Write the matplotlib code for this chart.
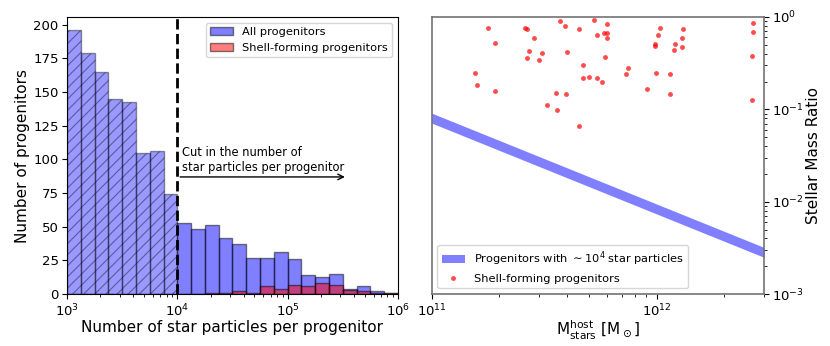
import numpy as np
import matplotlib
matplotlib.use("Agg")
import matplotlib.pyplot as plt

# Histogram: 24 log bins from 1e3 to 1e6 (8 per decade)
bin_edges = np.logspace(3, 6, 25)
all_counts = [196, 179, 165, 145, 143, 105, 106, 74,
              53, 48, 51, 42, 37, 27, 27, 31,
              26, 14, 13, 15, 4, 6, 2, 1]
shell_counts = [0, 0, 0, 0, 0, 0, 0, 0,
                0, 0, 1, 1, 2, 1, 6, 4,
                7, 6, 8, 7, 3, 2, 1, 1]
n_cut = 1e4

# Right panel: band of progenitors with ~1e4 star particles
band_mass = [1e11, 3e12]
band_upper = [0.091, 0.0032]
band_lower = [0.071, 0.0025]

# Shell-forming progenitors: host stellar mass and stellar mass ratio
host_mass = [1.78e11, 1.91e11, 1.55e11, 1.59e11, 1.91e11, 2.61e11, 2.66e11, 2.86e11,
             2.70e11, 2.65e11, 3.09e11, 3.00e11, 3.72e11, 3.93e11, 4.52e11, 4.00e11,
             3.56e11, 3.95e11, 3.27e11, 3.61e11, 4.52e11, 4.68e11, 4.68e11, 4.99e11,
             5.42e11, 5.70e11, 5.26e11, 6.03e11, 5.42e11, 5.86e11, 6.03e11, 6.03e11,
             5.89e11, 7.45e11, 7.28e11, 9.08e11, 9.84e11, 9.82e11, 1.03e12, 1.01e12,
             9.93e11, 1.15e12, 1.15e12, 1.20e12, 1.19e12, 1.31e12, 1.30e12, 1.30e12,
             2.68e12, 2.68e12, 2.65e12, 2.65e12]
mass_ratio = [0.754, 0.519, 0.246, 0.184, 0.156, 0.767, 0.741, 0.593,
              0.426, 0.361, 0.411, 0.346, 0.906, 0.793, 0.741, 0.415,
              0.151, 0.148, 0.112, 0.098, 0.0658, 0.303, 0.219, 0.223,
              0.217, 0.200, 0.936, 0.839, 0.638, 0.671, 0.671, 0.593,
              0.372, 0.281, 0.240, 0.164, 0.507, 0.490, 0.767, 0.638,
              0.250, 0.242, 0.146, 0.511, 0.440, 0.741, 0.593, 0.470,
              0.861, 0.682, 0.378, 0.126]

plt.rcParams["hatch.linewidth"] = 0.8

fig = plt.figure(figsize=(8.3, 3.46), dpi=100)
ax1 = fig.add_axes([0.0807, 0.150, 0.3988, 0.801])
ax2 = fig.add_axes([0.5201, 0.150, 0.4005, 0.801])

# ---- left panel
left = bin_edges[:-1]
widths = np.diff(bin_edges)
below = left < n_cut
ax1.bar(left[below], np.array(all_counts)[below], width=widths[below], align="edge",
        color="blue", alpha=0.4, edgecolor="black", hatch="///", linewidth=1)
ax1.bar(left[~below], np.array(all_counts)[~below], width=widths[~below], align="edge",
        color="blue", alpha=0.5, edgecolor="black", linewidth=1, label="All progenitors")
ax1.bar(left, shell_counts, width=widths, align="edge",
        color="red", alpha=0.5, edgecolor="black", linewidth=1,
        label="Shell-forming progenitors")
ax1.axvline(n_cut, color="black", ls="--", lw=2)
ax1.annotate("", xy=(3.5e5, 87), xytext=(n_cut, 87),
             arrowprops=dict(arrowstyle="->", lw=1, color="black"))
ax1.text(1.1e4, 89.5, "Cut in the number of\nstar particles per progenitor",
         fontsize=8.3, va="bottom", ha="left")

ax1.set_xscale("log")
ax1.set_xlim(1e3, 1e6)
ax1.set_ylim(0, 205.8)
ax1.set_xlabel("Number of star particles per progenitor", fontsize=11, labelpad=1)
ax1.set_ylabel("Number of progenitors", fontsize=11, labelpad=2)
ax1.tick_params(labelsize=9.5, pad=2.5)
ax1.legend(loc="upper right", fontsize=8.2)

# ---- right panel
ax2.fill_between(band_mass, band_lower, band_upper, color="blue", alpha=0.5, lw=0,
                 label=r"Progenitors with $\sim10^4$ star particles")
ax2.plot(host_mass, mass_ratio, "o", color="red", alpha=0.7, ms=3.5,
         markeredgewidth=0, label="Shell-forming progenitors")
ax2.set_xscale("log")
ax2.set_yscale("log")
ax2.set_xlim(1e11, 3e12)
ax2.set_ylim(1e-3, 1)
ax2.yaxis.tick_right()
ax2.yaxis.set_label_position("right")
ax2.set_ylabel("Stellar Mass Ratio", fontsize=11, labelpad=1)
ax2.set_xlabel(r"M$_{\rm stars}^{\rm host}$ [M$_\odot$]", fontsize=11, labelpad=0)
ax2.tick_params(labelsize=9.5, pad=2.5)
for sp in ax2.spines.values():
    sp.set_color("0.45")
    sp.set_linewidth(1.2)
ax2.legend(loc="lower left", fontsize=8.2, numpoints=1)

fig.savefig("out.png", dpi=100)
